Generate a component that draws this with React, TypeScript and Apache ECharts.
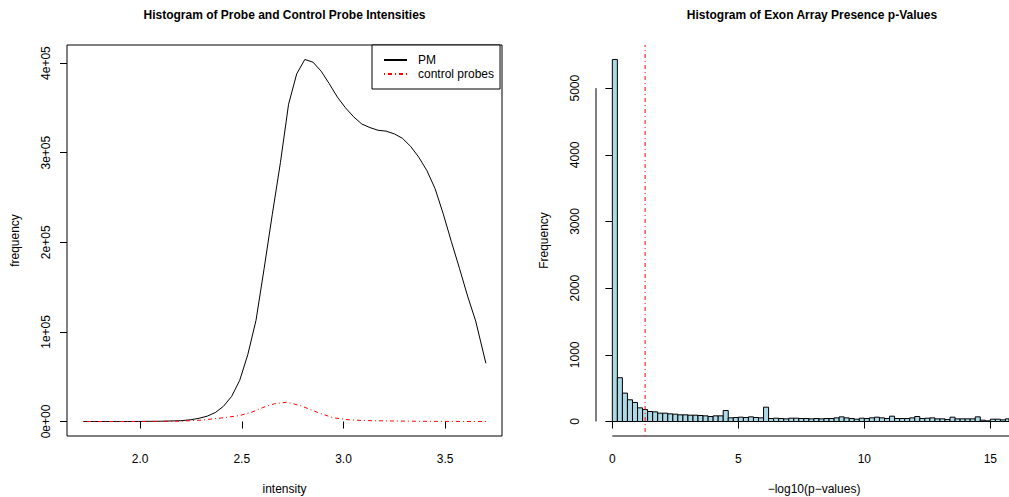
import React, { useEffect, useRef } from "react";
import * as echarts from "echarts";

// ---- Left panel: density-like frequency curves ----
const pmX = [1.72, 1.8, 1.9, 2.0, 2.1, 2.2, 2.25, 2.29, 2.33, 2.37, 2.41, 2.45, 2.49, 2.53, 2.57, 2.61, 2.65, 2.69, 2.73, 2.77, 2.81, 2.85, 2.89, 2.93, 2.97, 3.01, 3.05, 3.09, 3.13, 3.17, 3.21, 3.25, 3.29, 3.33, 3.37, 3.41, 3.45, 3.49, 3.53, 3.57, 3.61, 3.65, 3.7];
const pmY = [0, 0, 0, 100, 300, 900, 2000, 3600, 6000, 10000, 17000, 28000, 46000, 75000, 113000, 171000, 231000, 289000, 354000, 388000, 404000, 401000, 391000, 377000, 362000, 350000, 340000, 332000, 328000, 325000, 324000, 321000, 316000, 307000, 295000, 280000, 260000, 232000, 201000, 171000, 140000, 112000, 65000];

const ctrlX = [1.72, 1.9, 2.1, 2.2, 2.3, 2.36, 2.42, 2.49, 2.55, 2.61, 2.66, 2.72, 2.79, 2.87, 2.95, 3.03, 3.1, 3.2, 3.4, 3.7];
const ctrlY = [0, 0, 100, 400, 1500, 3000, 4500, 6700, 10500, 16200, 19800, 21600, 17600, 10400, 4100, 1900, 1100, 700, 200, 0];

const leftXTicks = [2.0, 2.5, 3.0, 3.5];
const leftYTicks = [0, 100000, 200000, 300000, 400000];
const leftYTickLabels = ["0e+00", "1e+05", "2e+05", "3e+05", "4e+05"];

// ---- Right panel: histogram of -log10(p) ----
const binWidth = 0.2;
const histCounts = [
  5430, 657, 426, 326, 286, 205, 180, 150, 145, 125,
  125, 115, 110, 100, 100, 95, 95, 90, 85, 75,
  85, 85, 165, 55, 60, 65, 60, 70, 60, 55,
  215, 45, 50, 45, 40, 50, 50, 45, 45, 40,
  45, 40, 45, 45, 55, 70, 55, 45, 35, 50,
  45, 55, 65, 55, 45, 80, 45, 45, 45, 55,
  75, 45, 50, 55, 40, 40, 30, 65, 40, 40,
  40, 40, 70, 20, 10, 35, 35, 25, 40, 30,
  35,
];
const cutoff = 1.30103; // -log10(0.05)
const rightXTicks = [0, 5, 10, 15];
const rightYTicks = [0, 1000, 2000, 3000, 4000, 5000];

const FONT = '"Liberation Sans", Arial, Helvetica, sans-serif';

export default function App() {
  const ref = useRef<HTMLDivElement>(null);

  useEffect(() => {
    document.body.style.margin = "0";
    if (!ref.current) return;
    const chart = echarts.init(ref.current, undefined, { renderer: "svg" });

    const lxMin = 1.72 - 0.04 * (3.7 - 1.72);
    const lxMax = 3.7 + 0.04 * (3.7 - 1.72);
    const lyMax0 = Math.max(...pmY);
    const lyMin = -0.04 * lyMax0;
    const lyMax = lyMax0 * 1.04;

    const hMax = Math.max(...histCounts);
    const nBins = histCounts.length;
    const rxMin = -0.04 * nBins * binWidth;
    const rxMax = 15.74;
    const ryMin = -0.04 * hMax;
    const ryMax = hMax * 1.04;

    const histData = histCounts.map((c, i) => [i * binWidth, (i + 1) * binWidth, c]);

    const redDash = [1, 3, 4, 3];
    const axisLabelBase = { color: "#000", fontSize: 12, fontFamily: FONT };

    const option: any = {
      animation: false,
      backgroundColor: "#fff",
      grid: [
        { left: 67, top: 45, width: 435, height: 391, show: true, borderColor: "#000", borderWidth: 1, backgroundColor: "transparent" },
        { left: 596, top: 45, right: 0, height: 391, show: false },
      ],
      xAxis: [
        {
          type: "value", gridIndex: 0, min: lxMin, max: lxMax,
          axisLine: { show: false },
          splitLine: { show: false },
          axisTick: { show: true, inside: false, length: 7, customValues: leftXTicks, lineStyle: { color: "#000" } },
          axisLabel: { ...axisLabelBase, margin: 17, customValues: leftXTicks, formatter: (v: number) => v.toFixed(1) },
        },
        {
          type: "value", gridIndex: 1, min: rxMin, max: rxMax,
          axisLine: { show: false },
          splitLine: { show: false },
          axisTick: { show: true, inside: false, length: 7, customValues: rightXTicks, lineStyle: { color: "#000" } },
          axisLabel: { ...axisLabelBase, margin: 17, customValues: rightXTicks, formatter: (v: number) => String(v) },
        },
      ],
      yAxis: [
        {
          type: "value", gridIndex: 0, min: lyMin, max: lyMax,
          axisLine: { show: false },
          splitLine: { show: false },
          axisTick: { show: true, inside: false, length: 7, customValues: leftYTicks, lineStyle: { color: "#000" } },
          axisLabel: {
            ...axisLabelBase, margin: 15, rotate: 90, customValues: leftYTicks,
            formatter: (v: number) => leftYTickLabels[leftYTicks.indexOf(v)] ?? "",
          },
        },
        {
          type: "value", gridIndex: 1, min: ryMin, max: ryMax,
          axisLine: { show: false },
          splitLine: { show: false },
          axisTick: { show: true, inside: false, length: 7, customValues: rightYTicks, lineStyle: { color: "#000" } },
          axisLabel: { ...axisLabelBase, margin: 15, rotate: 90, customValues: rightYTicks, formatter: (v: number) => String(v) },
        },
      ],
      legend: {
        data: ["PM", "control probes"],
        orient: "vertical",
        left: 372,
        top: 45,
        padding: [9, 6, 9, 11],
        itemGap: 2,
        itemWidth: 23,
        itemHeight: 14,
        borderColor: "#000",
        borderWidth: 1,
        backgroundColor: "#fff",
        itemStyle: { opacity: 0 },
        textStyle: { color: "#000", fontSize: 12, fontFamily: FONT, padding: [0, 0, 0, 6] },
        selectedMode: false,
      },
      series: [
        {
          name: "PM", type: "line", xAxisIndex: 0, yAxisIndex: 0,
          data: pmX.map((x, i) => [x, pmY[i]]),
          symbol: "none", lineStyle: { color: "#000", width: 1 }, itemStyle: { color: "#000" },
          silent: true,
        },
        {
          name: "control probes", type: "line", xAxisIndex: 0, yAxisIndex: 0,
          data: ctrlX.map((x, i) => [x, ctrlY[i]]),
          symbol: "none", lineStyle: { color: "#ff0000", width: 1, type: redDash }, itemStyle: { color: "#ff0000" },
          silent: true,
        },
        {
          name: "hist", type: "custom", xAxisIndex: 1, yAxisIndex: 1,
          data: histData,
          silent: true,
          renderItem: (params: any, api: any) => {
            const p0 = api.coord([api.value(0), api.value(2)]);
            const p1 = api.coord([api.value(1), 0]);
            const rect = echarts.graphic.clipRectByRect(
              { x: p0[0], y: p0[1], width: p1[0] - p0[0], height: p1[1] - p0[1] },
              params.coordSys
            );
            if (!rect) return null;
            return {
              type: "rect",
              shape: rect,
              style: { fill: "#ADD8E6", stroke: "#000", lineWidth: 1 },
            };
          },
        },
        {
          name: "xaxisline", type: "line", xAxisIndex: 1, yAxisIndex: 1,
          data: [[0, ryMin], [rxMax, ryMin]],
          symbol: "none", clip: false, silent: true,
          lineStyle: { color: "#000", width: 1 },
        },
        {
          name: "yaxisline", type: "line", xAxisIndex: 1, yAxisIndex: 1,
          data: [[rxMin, 0], [rxMin, 5000]],
          symbol: "none", clip: false, silent: true,
          lineStyle: { color: "#000", width: 1 },
        },
        {
          name: "cutoff", type: "line", xAxisIndex: 1, yAxisIndex: 1,
          data: [[cutoff, ryMin], [cutoff, ryMax]],
          symbol: "none", silent: true,
          lineStyle: { color: "#ff0000", width: 1, type: redDash },
        },
      ],
      graphic: [
        { type: "text", x: 284.5, y: 15, style: { text: "Histogram of Probe and Control Probe Intensities", font: `bold 12px ${FONT}`, fill: "#000", align: "center", verticalAlign: "middle" } },
        { type: "text", x: 812, y: 15, style: { text: "Histogram of Exon Array Presence p-Values", font: `bold 12px ${FONT}`, fill: "#000", align: "center", verticalAlign: "middle" } },
        { type: "text", x: 284.5, y: 489, style: { text: "intensity", font: `12px ${FONT}`, fill: "#000", align: "center", verticalAlign: "middle" } },
        { type: "text", x: 814, y: 489, style: { text: "\u2212log10(p\u2212values)", font: `12px ${FONT}`, fill: "#000", align: "center", verticalAlign: "middle" } },
        { type: "text", x: 15, y: 240.5, rotation: Math.PI / 2, style: { text: "frequency", font: `12px ${FONT}`, fill: "#000", align: "center", verticalAlign: "middle" } },
        { type: "text", x: 544, y: 240.5, rotation: Math.PI / 2, style: { text: "Frequency", font: `12px ${FONT}`, fill: "#000", align: "center", verticalAlign: "middle" } },
      ],
    };

    chart.setOption(option);
    return () => chart.dispose();
  }, []);

  return <div ref={ref} style={{ position: "absolute", left: 0, top: 0, width: 1009, height: 497 }} />;
}
